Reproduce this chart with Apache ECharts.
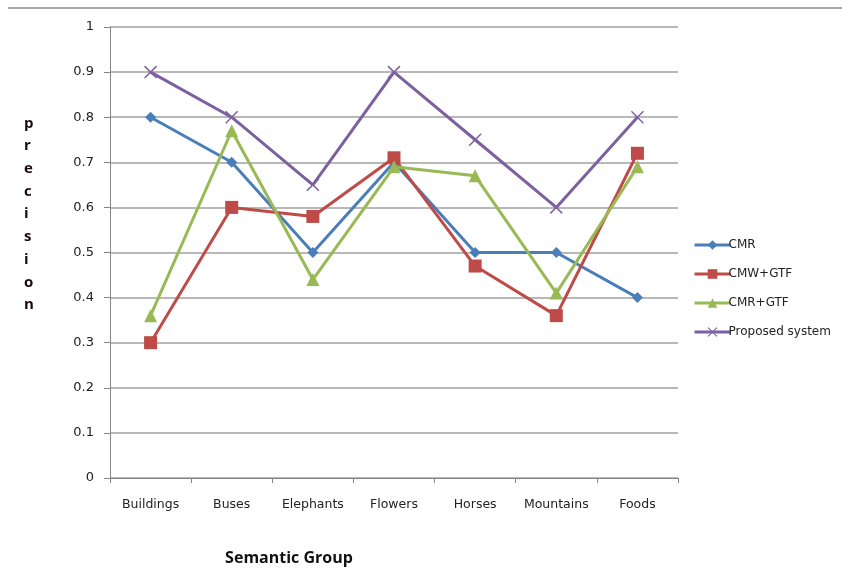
<!DOCTYPE html>
<html><head><meta charset="utf-8">
<script src="https://cdn.jsdelivr.net/npm/echarts@6/dist/echarts.min.js"></script>
<style>html,body{margin:0;padding:0;background:#fff}#c{width:842px;height:568px}</style>
</head><body><div id="c"></div>
<script>
const categories = ['Buildings','Buses','Elephants','Flowers','Horses','Mountains','Foods'];
const cmr = [0.8, 0.7, 0.5, 0.7, 0.5, 0.5, 0.4];
const cmwGtf = [0.3, 0.6, 0.58, 0.71, 0.47, 0.36, 0.72];
const cmrGtf = [0.36, 0.77, 0.44, 0.69, 0.67, 0.41, 0.69];
const proposed = [0.9, 0.8, 0.65, 0.9, 0.75, 0.6, 0.8];
const yLabels = ['0','0.1','0.2','0.3','0.4','0.5','0.6','0.7','0.8','0.9','1'];

const xPath = 'path://M0,0.8L0.8,0L10,9.2L9.2,10Z M9.2,0L10,0.8L0.8,10L0,9.2Z';
const font = 'DejaVu Sans';
const chart = echarts.init(document.getElementById('c'));
function s(name, data, color, symbol, size){
  return {name, type:'line', data, symbol, symbolSize:size, showSymbol:true,
    lineStyle:{color, width:3}, itemStyle:{color}, z: 3};
}
chart.setOption({
  animation:false,
  grid:{left:110, right:164, top:27, bottom:90, containLabel:false, outerBoundsMode:'none'},
  xAxis:{type:'category', data:categories, boundaryGap:true,
    axisLine:{lineStyle:{color:'#868686', width:1}},
    axisTick:{show:true, length:5, lineStyle:{color:'#868686'}},
    axisLabel:{color:'#222', fontFamily:font, fontSize:12.5, margin:20, interval:0, hideOverlap:false},
    name:'Semantic Group', nameLocation:'middle', nameGap:72,
    nameTextStyle:{fontFamily:'Open Sans', fontWeight:'bold', fontSize:16, color:'#111', padding:[0,210,0,0]}
  },
  yAxis:{type:'value', min:0, max:1, interval:0.1,
    axisLine:{show:true, lineStyle:{color:'#868686'}},
    axisTick:{show:true, length:6, lineStyle:{color:'#868686'}},
    axisLabel:{color:'#222', fontFamily:font, fontSize:13, margin:16,
      formatter:v=>yLabels[Math.round(v*10)]},
    splitLine:{lineStyle:{color:'#A0A0A0', width:1.5}}
  },
  legend:{orient:'vertical', left:688, top:234, itemGap:17, itemWidth:36, itemHeight:12,
    lineStyle:{width:3},
    textStyle:{fontFamily:font, fontSize:12, color:'#222', padding:[0,0,0,-7]},
    data:['CMR','CMW+GTF','CMR+GTF','Proposed system']},
  graphic:[
    {type:'line', shape:{x1:8, y1:8, x2:842, y2:8}, style:{stroke:'#A8A8A8', lineWidth:2}},
    {type:'text', left:24, top:112, style:{text:'p\nr\ne\nc\ni\ns\ni\no\nn', fontFamily:'Open Sans', fontWeight:'bold', fontSize:15, lineHeight:22.7, fill:'#1a0a0a', align:'center'}}
  ],
  series:[
    s('CMR', cmr, '#4A7EBB', 'diamond', 11),
    s('CMW+GTF', cmwGtf, '#BE4B48', 'rect', 13),
    s('CMR+GTF', cmrGtf, '#98B954', 'triangle', 13),
    s('Proposed system', proposed, '#7D60A0', xPath, 13)
  ]
});
</script></body></html>
